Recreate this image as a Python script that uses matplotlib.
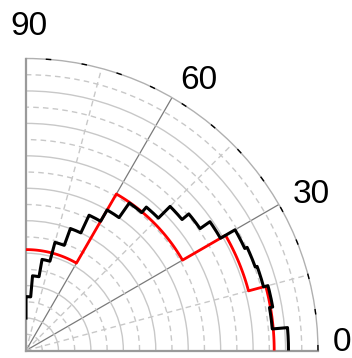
import matplotlib.pyplot as plt
import numpy as np
from matplotlib.ticker import FixedLocator
from matplotlib.transforms import offset_copy

plt.rcParams['font.family'] = ['Liberation Sans', 'DejaVu Sans']

# angular bins (degrees) and radial values
black_edges = [0, 5, 10, 15, 20, 25, 30, 35, 40, 45, 50, 55, 60, 65, 70, 75, 80, 85, 90]
black_r = [80.9, 76.2, 77.2, 75.8, 75.2, 74.4, 69.2, 65.5, 62.8, 57.7, 55.5, 50.0,
           46.0, 40.0, 34.5, 28.5, 23.1, 16.6]
black_end = 10.0

red_edges = [0, 15, 30, 45, 60, 75, 90]
red_r = [76.5, 71.0, 55.7, 55.7, 31.1, 31.1]

angle_labels = ['0', '30', '60', '90']
label_theta = [2.0, 29.2, 57.6, 89.5]
label_r = [97.6, 100.7, 99.5, 100.8]

rmax = 90


def polar_steps(edges, values, n=20):
    # each bin drawn as an arc of constant radius, joined by radial jumps
    th, rr = [], []
    for a, b, v in zip(edges[:-1], edges[1:], values):
        t = np.linspace(a, b, n)
        th.extend(t)
        rr.extend([v] * n)
    return np.deg2rad(th), np.array(rr)


fig = plt.figure(figsize=(3.52, 3.58), dpi=100)
ax = fig.add_axes([26/352, 7.5/358, 292/352, 292/358], projection='polar')
ax.set_thetamin(0)
ax.set_thetamax(90)
ax.set_rlim(0, rmax)

# grid: solid every 10 / 30 deg, dashed in between
ax.set_rticks(np.arange(10, rmax, 10))
ax.yaxis.set_minor_locator(FixedLocator(np.arange(5, rmax, 10)))
ax.set_xticks(np.deg2rad([30, 60]))
ax.xaxis.set_minor_locator(FixedLocator(np.deg2rad([15, 45, 75])))
ax.set_xticklabels([])
ax.set_yticklabels([])
ax.tick_params(which='both', length=0)
ax.yaxis.grid(True, which='major', color='#c8c8c8', lw=1.0, ls='-')
ax.yaxis.grid(True, which='minor', color='#c8c8c8', lw=1.0, ls=(0, (4, 3)))
ax.xaxis.grid(True, which='major', color='#7a7a7a', lw=0.9, ls='-')
ax.xaxis.grid(True, which='minor', color='#c8c8c8', lw=1.0, ls=(0, (4, 3)))

for name in ['start', 'end']:
    ax.spines[name].set_color('#9a9a9a')
    ax.spines[name].set_linewidth(1.6)
ax.spines['polar'].set_color('#b0b0b0')
ax.spines['polar'].set_linewidth(1.0)
# dark specks along the outer arc
arc = np.linspace(0, np.pi / 2, 200)
ax.plot(arc, np.full_like(arc, rmax), color='black', lw=1.0,
        dashes=(4, 22), clip_on=False, zorder=4)

# step curves
bt, br = polar_steps(black_edges, black_r)
bt = np.append(bt, np.deg2rad(90))
br = np.append(br, black_end)
ax.plot(bt, br, color='black', lw=2.2, zorder=5)

rt, rr = polar_steps(red_edges, red_r)
ax.plot(rt, rr, color='#ff0000', lw=2.0, zorder=4)

lab_tr = offset_copy(ax.transData, fig=fig, x=0, y=-3.0, units='dots')
for lab, th, r in zip(angle_labels, label_theta, label_r):
    ax.text(np.deg2rad(th), r, lab, fontsize=24, ha='center', va='center',
            clip_on=False, transform=lab_tr)

fig.savefig('out.png', dpi=100)
